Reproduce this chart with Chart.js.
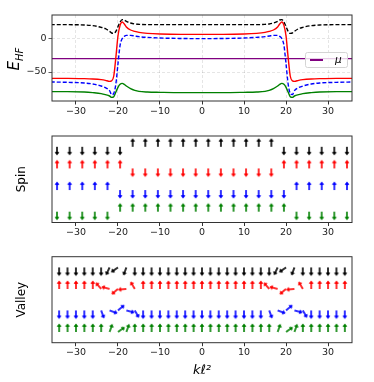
<!DOCTYPE html>
<html>
<head>
<meta charset="utf-8">
<script src="https://cdn.jsdelivr.net/npm/chart.js@4.4.1/dist/chart.umd.min.js"></script>
<style>
  body { margin: 0; background: #fff; }
  #wrap { position: relative; width: 374px; height: 382px; font-family: 'DejaVu Sans', sans-serif; }
  #wrap canvas { position: absolute; left: 0; }
  #ehf { position: absolute; left: 15px; top: 59px; transform: translate(-50%, -50%) rotate(-90deg);
         font: italic 15px 'DejaVu Sans', sans-serif; white-space: nowrap; color: #000; }
  #ehf sub { font-size: 10px; }
  #legend { position: absolute; left: 305px; top: 52px; width: 41px; height: 14px;
            border: 1px solid #d4d4d4; border-radius: 2.5px; background: rgba(255,255,255,0.8); }
  #legend .handle { position: absolute; left: 4px; top: 6px; width: 13px; height: 1.5px; background: #800080; }
  #legend .txt { position: absolute; left: 29px; top: 0px; font: italic 10.5px 'DejaVu Sans', sans-serif; }
</style>
</head>
<body>
<div id="wrap">
  <canvas id="energyChart" width="374" height="120" style="top:0px"></canvas>
  <canvas id="spinChart" width="374" height="120" style="top:125px"></canvas>
  <canvas id="valleyChart" width="374" height="137" style="top:245px"></canvas>
  <div id="ehf">E<sub>HF</sub></div>
  <div id="legend"><span class="handle"></span><span class="txt"></span></div>
</div>
<script>
// --- HF energies vs k ---
const kGrid = [-36, -32, -28, -26, -24, -23, -22, -21.5, -21, -20.5, -20, -19.5, -19, -18.5, -18, -17, -16, -15, -13, -10, -5,
  0, 5, 10, 13, 15, 16, 17, 18, 18.5, 19, 19.5, 20, 20.5, 21, 21.5, 22, 23, 24, 26, 28, 32, 36];
const eBlack = [21, 21, 20.5, 19.5, 17, 15, 11, 8.5, 8, 11, 18, 25, 28.5, 28, 26, 23.5, 22, 21.5, 21, 21, 21,
  21, 21, 21, 21, 21.5, 22, 23.5, 26, 28, 28.5, 25, 18, 11, 8, 8.5, 11, 15, 17, 19.5, 20.5, 21, 21];
const eRed = [-59.5, -59.5, -60, -60.5, -61.5, -62.5, -64, -63, -56, -28, 4, 20, 25, 22, 17.5, 13, 11, 9.5, 8, 7, 6.5,
  6.5, 6.5, 7, 8, 9.5, 11, 13, 17.5, 22, 25, 20, 4, -28, -56, -63, -64, -62.5, -61.5, -60.5, -60, -59.5, -59.5];
const eBlue = [-65, -65.5, -66.5, -68, -71, -73.5, -78, -84, -82, -68, -38, -10, 0, 3.5, 5, 5, 4, 3, 2, 1, 0.3,
  0, 0.3, 1, 2, 3, 4, 5, 5, 3.5, 0, -10, -38, -68, -82, -84, -78, -73.5, -71, -68, -66.5, -65.5, -65];
const eGreen = [-79.5, -79.5, -80, -81, -82.5, -84, -86, -88, -87, -80, -73, -68.5, -67, -68.5, -71, -75, -77.5, -79, -80, -80.5, -81,
  -81, -81, -80.5, -80, -79, -77.5, -75, -71, -68.5, -67, -68.5, -73, -80, -87, -88, -86, -84, -82.5, -81, -80, -79.5, -79.5];
const muLevel = -30;
const muLabel = 'μ';
const kTicks = [-30, -20, -10, 0, 10, 20, 30];
const eTicks = [-50, 0];

// --- spin panel: +1 up, -1 down ---
const spinK = [-34.5, -31.5, -28.5, -25.5, -22.5, -19.5, -16.5, -13.5, -10.5, -7.5, -4.5, -1.5,
  1.5, 4.5, 7.5, 10.5, 13.5, 16.5, 19.5, 22.5, 25.5, 28.5, 31.5, 34.5];
const spinBlack = [-1, -1, -1, -1, -1, -1, 1, 1, 1, 1, 1, 1, 1, 1, 1, 1, 1, 1, -1, -1, -1, -1, -1, -1];
const spinRed = [1, 1, 1, 1, 1, 1, -1, -1, -1, -1, -1, -1, -1, -1, -1, -1, -1, -1, 1, 1, 1, 1, 1, 1];
const spinBlue = [1, 1, 1, 1, 1, -1, -1, -1, -1, -1, -1, -1, -1, -1, -1, -1, -1, -1, -1, 1, 1, 1, 1, 1];
const spinGreen = [-1, -1, -1, -1, -1, 1, 1, 1, 1, 1, 1, 1, 1, 1, 1, 1, 1, 1, 1, -1, -1, -1, -1, -1];

// --- valley panel: arrow direction in degrees (0 = up, clockwise) ---
const valleyK = [-34, -32, -30, -28, -26, -24, -22, -20, -18, -16, -14, -12, -10, -8, -6, -4, -2, 0,
  2, 4, 6, 8, 10, 12, 14, 16, 18, 20, 22, 24, 26, 28, 30, 32, 34];
const valleyBlack = [180, 180, 180, 180, 180, 180, 205, 235, 200, 180, 180, 180, 180, 180, 180, 180, 180, 180,
  180, 180, 180, 180, 180, 180, 180, 180, 205, 235, 200, 180, 180, 180, 180, 180, 180];
const valleyRed = [0, 0, 0, 0, 0, 320, 285, 230, 265, 330, 0, 0, 0, 0, 0, 0, 0, 0,
  0, 0, 0, 0, 0, 0, 0, 320, 285, 230, 265, 330, 0, 0, 0, 0, 0];
const valleyBlue = [180, 180, 180, 180, 180, 160, 110, 50, 105, 150, 180, 180, 180, 180, 180, 180, 180, 180,
  180, 180, 180, 180, 180, 180, 180, 160, 110, 50, 105, 150, 180, 180, 180, 180, 180];
const valleyGreen = [0, 0, 0, 0, 0, 0, 20, 55, 20, 0, 0, 0, 0, 0, 0, 0, 0, 0,
  0, 0, 0, 0, 0, 0, 0, 0, 20, 55, 20, 0, 0, 0, 0, 0, 0];

// row order from top: black, red, blue, green
const rows = [
  {color: '#000000', spin: spinBlack, valley: valleyBlack},
  {color: '#ff0000', spin: spinRed, valley: valleyRed},
  {color: '#0000ff', spin: spinBlue, valley: valleyBlue},
  {color: '#008000', spin: spinGreen, valley: valleyGreen}
];

Chart.defaults.font.family = "'DejaVu Sans', sans-serif";
Chart.defaults.color = '#000';

const fmt = v => (v < 0 ? '\u2212' + Math.abs(v) : String(v));

// tail of the arrow sits in the middle of the image, so it pivots at the tail
function makeArrow(color) {
  const size = 22, c = document.createElement('canvas');
  c.width = size; c.height = size;
  const g = c.getContext('2d');
  const cx = size / 2, cy = size / 2, L = 8.6, hl = 3.6, hw = 2.4, sw = 0.8;
  g.fillStyle = color;
  g.beginPath();
  g.moveTo(cx - sw, cy);
  g.lineTo(cx - sw, cy - L + hl);
  g.lineTo(cx - hw, cy - L + hl - 0.4);
  g.lineTo(cx, cy - L);
  g.lineTo(cx + hw, cy - L + hl - 0.4);
  g.lineTo(cx + sw, cy - L + hl);
  g.lineTo(cx + sw, cy);
  g.closePath();
  g.fill();
  return c;
}

const frame = {
  id: 'frame',
  afterDatasetsDraw(chart) {
    const {ctx, chartArea: a} = chart;
    ctx.save();
    ctx.strokeStyle = '#333';
    ctx.lineWidth = 1;
    ctx.strokeRect(a.left, a.top, a.right - a.left, a.bottom - a.top);
    ctx.restore();
  }
};

function xAxis(height, gridOn, title) {
  return {
    type: 'linear', min: -35.7, max: 35.7,
    afterBuildTicks: s => { s.ticks = kTicks.map(v => ({value: v})); },
    afterFit: s => { s.height = height; },
    grid: {display: true, drawOnChartArea: gridOn, color: 'rgba(0,0,0,0.13)', lineWidth: 0.8,
      drawTicks: true, tickLength: 3.5, tickColor: '#333', tickWidth: 1},
    border: {display: false, dash: [3, 2]},
    ticks: {callback: fmt, font: {size: 9.5}, color: '#222', padding: 1, maxRotation: 0},
    title: title || {display: false}
  };
}

// ---- energy panel ----
const line = (data, color, dash) => ({
  data: kGrid.map((k, i) => ({x: k, y: data[i]})),
  borderColor: color, borderWidth: 1.4, borderDash: dash || [], pointRadius: 0,
  cubicInterpolationMode: 'monotone', fill: false
});

const energyChart = new Chart(document.getElementById('energyChart'), {
  type: 'line',
  data: {
    datasets: [
      line(eRed, '#ff0000'),
      line(eBlue, '#0000ff', [4, 2]),
      line(eBlack, '#000000', [4, 2]),
      line(eGreen, '#008000'),
      {label: muLabel, data: [{x: -36, y: muLevel}, {x: 36, y: muLevel}], borderColor: '#800080',
        borderWidth: 1.4, pointRadius: 0, fill: false}
    ]
  },
  options: {
    responsive: false, animation: false, events: [],
    layout: {padding: {top: 15, right: 22, left: 0, bottom: 0}},
    plugins: {legend: {display: false}, tooltip: {enabled: false}},
    scales: {
      x: xAxis(19, true),
      y: {
        type: 'linear', min: -93.5, max: 35.5,
        afterBuildTicks: s => { s.ticks = eTicks.map(v => ({value: v})); },
        afterFit: s => { s.width = 52; },
        grid: {display: true, drawOnChartArea: true, color: 'rgba(0,0,0,0.13)', lineWidth: 0.8,
          drawTicks: true, tickLength: 3.5, tickColor: '#333'},
        border: {display: false, dash: [3, 2]},
        ticks: {callback: fmt, font: {size: 9.5}, color: '#222', padding: 2}
      }
    }
  },
  plugins: [frame]
});

document.querySelector('#legend .txt').textContent = energyChart.data.datasets[4].label;

// ---- arrow panels ----
function arrowSets(kList, pick) {
  return rows.map((r, level) => {
    const vals = pick(r);
    return {
      data: kList.map(k => ({x: k, y: level})),
      pointStyle: makeArrow(r.color),
      pointRadius: 1,
      pointRotation: c => vals[c.dataIndex],
      showLine: false, clip: false
    };
  });
}

function arrowOptions(canvasH, padTop, axisH, yTitle, xTitle) {
  return {
    responsive: false, animation: false, events: [],
    layout: {padding: {top: padTop, right: 22, left: 0, bottom: 0}},
    plugins: {legend: {display: false}, tooltip: {enabled: false}},
    scales: {
      x: xAxis(axisH, false, xTitle),
      y: {
        type: 'linear', min: -0.5, max: 3.5, reverse: true,
        afterFit: s => { s.width = 52; },
        grid: {display: false}, border: {display: false},
        ticks: {display: false},
        title: {display: true, text: yTitle, font: {size: 12}, color: '#000', padding: {top: 15}}
      }
    }
  };
}

new Chart(document.getElementById('spinChart'), {
  type: 'scatter',
  data: {datasets: arrowSets(spinK, r => r.spin.map(s => (s > 0 ? 0 : 180)))},
  options: arrowOptions(120, 11, 22.5, 'Spin'),
  plugins: [frame]
});

new Chart(document.getElementById('valleyChart'), {
  type: 'scatter',
  data: {datasets: arrowSets(valleyK, r => r.valley)},
  options: arrowOptions(137, 11.7, 39.3, 'Valley',
    {display: true, text: 'kℓ²', font: {size: 13, style: 'italic'}, color: '#000', padding: {bottom: 3.7}}),
  plugins: [frame]
});
</script>
</body>
</html>
